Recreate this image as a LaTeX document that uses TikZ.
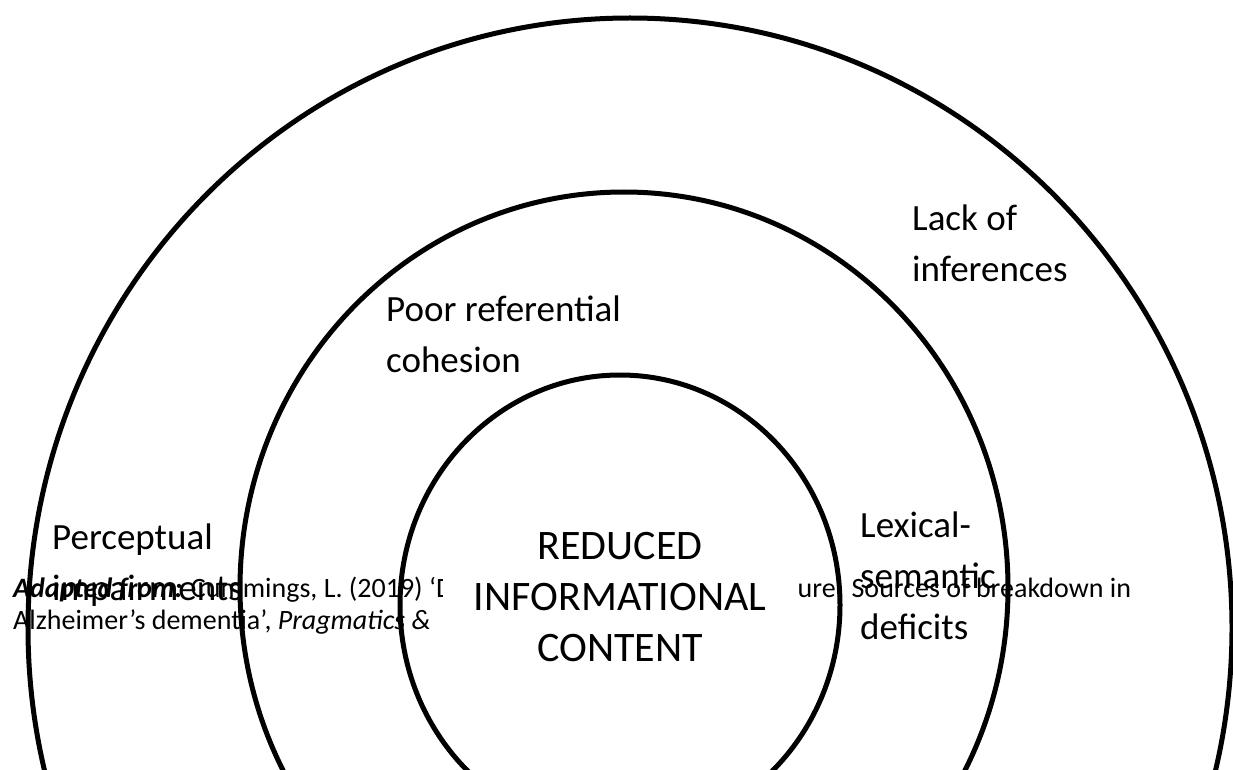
\documentclass[tikz,border=0pt]{standalone}
\usepackage{fontspec}
\setmainfont{Carlito}
\begin{document}
\begin{tikzpicture}[x=1pt,y=-1pt,
  ring/.style={line width=5pt, black},
  lbl/.style={font=\fontsize{37}{51}\selectfont, align=left, inner sep=0pt, anchor=north west},
  corelbl/.style={font=\fontsize{42}{51}\selectfont, align=center, inner sep=0pt, fill=white, minimum width=354pt, anchor=center},
  citelbl/.style={font=\fontsize{28}{32}\selectfont, align=left, inner sep=0pt, anchor=north west}]
\useasboundingbox (0,0) rectangle (1233,770);
\begin{scope}
\clip (0,0) rectangle (1233,770);
\draw[ring] (630,628) ellipse [x radius=602, y radius=610];
\draw[ring] (624,588) ellipse [x radius=384, y radius=396];
\draw[ring] (620,605) ellipse [x radius=220, y radius=230];
\end{scope}
\node[citelbl] (cite) at (13,577) {\textbf{\textit{Adapted from:}} Cummings, L. (2019) ‘Describing the Cookie Theft picture: Sources of breakdown in\\Alzheimer’s dementia’, \textit{Pragmatics \&}};
\node[corelbl] (core) at (620,597) {REDUCED\\INFORMATIONAL\\CONTENT};
\node[lbl] (inf) at (912,205) {Lack of\\inferences};
\node[lbl] (coh) at (386,296) {Poor referential\\cohesion};
\node[lbl] (perc) at (52,524) {Perceptual\\impairments};
\node[lbl] (lex) at (860,512) {Lexical-\\semantic\\deficits};
\end{tikzpicture}
\end{document}
